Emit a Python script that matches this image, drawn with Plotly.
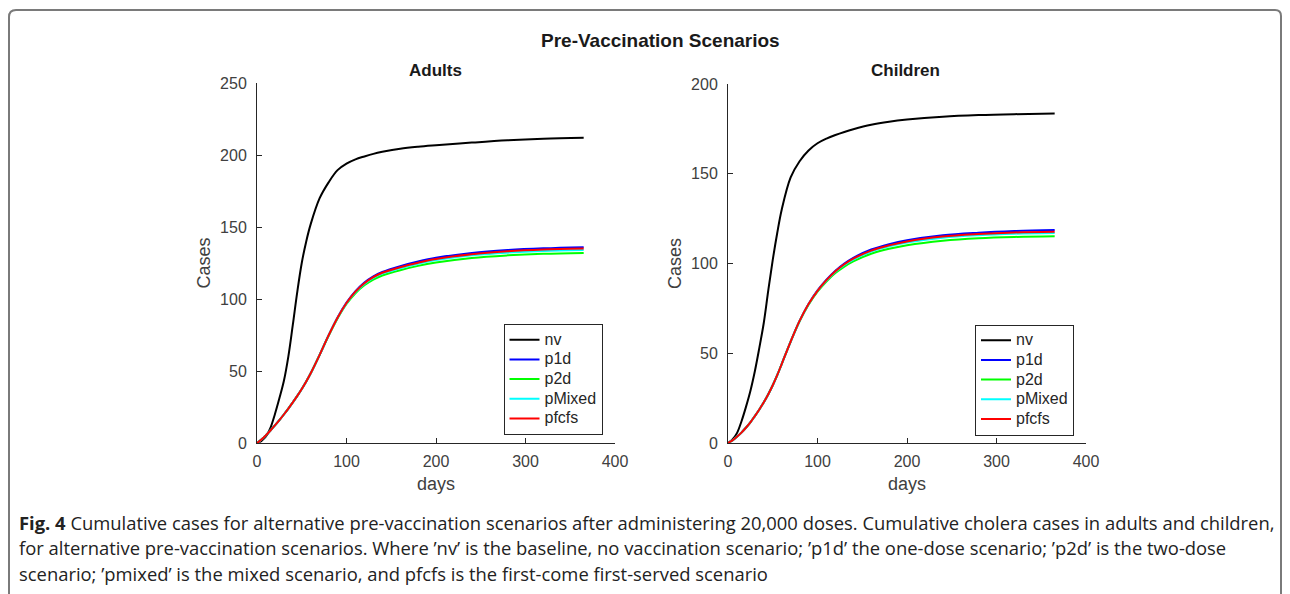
import plotly.graph_objects as go

days = [0, 5, 10, 15, 20, 25, 30, 35, 40, 45, 50, 55, 60, 70, 80, 90, 100, 110, 120, 130, 140, 160, 180, 200, 240, 280, 320, 365]

adults_nv = [0, 1.5, 4.5, 10.5, 20, 31, 43, 60, 82, 105, 125, 140, 152, 170, 181, 189.5, 194, 197, 199, 200.8, 202.2, 204.4, 205.8, 206.8, 208.6, 210.2, 211.3, 212]
adults_p1d = [0, 2.4, 5.4, 8.7, 12.2, 15.9, 19.8, 23.9, 28.2, 32.7, 37.5, 42.7, 48.4, 61.2, 74.8, 87.2, 97.5, 105.5, 111.5, 115.8, 118.8, 122.8, 126, 128.6, 132, 134, 135.2, 136]
adults_p2d = [0, 2.4, 5.4, 8.7, 12.2, 15.9, 19.8, 23.9, 28.2, 32.7, 37.5, 42.7, 48.4, 61.2, 74.5, 86.5, 96.5, 104, 109.5, 113.5, 116.3, 120, 123, 125.3, 128.5, 130.3, 131.4, 132]
adults_pmixed = [0, 2.4, 5.4, 8.7, 12.2, 15.9, 19.8, 23.9, 28.2, 32.7, 37.5, 42.7, 48.4, 61.2, 74.7, 86.9, 97, 104.8, 110.5, 114.7, 117.6, 121.4, 124.5, 127, 130.3, 132.2, 133.4, 134]
adults_pfcfs = [0, 2.4, 5.4, 8.7, 12.2, 15.9, 19.8, 23.9, 28.2, 32.7, 37.5, 42.7, 48.4, 61.2, 74.7, 87, 97.2, 105.1, 111, 115.2, 118.2, 122.1, 125.2, 127.8, 131.1, 133.1, 134.3, 135]

children_nv = [0, 2, 5.5, 12, 20, 29, 40, 53, 67, 85, 102, 117, 130, 148, 157, 163, 167, 169.6, 171.6, 173.3, 174.8, 177.3, 179, 180.2, 181.8, 182.7, 183.2, 183.5]
children_p1d = [0, 1.5, 3.5, 5.8, 8.5, 11.5, 15, 18.7, 22.7, 27.2, 32.2, 37.8, 44, 56.5, 68, 77.5, 85, 91, 96, 100, 103.2, 107.8, 110.8, 113, 115.8, 117.2, 118.1, 118.7]
children_p2d = [0, 1.5, 3.5, 5.8, 8.5, 11.5, 15, 18.7, 22.7, 27.2, 32.2, 37.8, 44, 56.5, 67.8, 77, 84.3, 90, 94.7, 98.3, 101.2, 105.4, 108.2, 110.2, 112.7, 114.1, 114.8, 115.2]
children_pmixed = [0, 1.5, 3.5, 5.8, 8.5, 11.5, 15, 18.7, 22.7, 27.2, 32.2, 37.8, 44, 56.5, 67.9, 77.3, 84.7, 90.5, 95.4, 99.2, 102.2, 106.7, 109.6, 111.7, 114.4, 115.8, 116.6, 117]
children_pfcfs = [0, 1.5, 3.5, 5.8, 8.5, 11.5, 15, 18.7, 22.7, 27.2, 32.2, 37.8, 44, 56.5, 68, 77.4, 84.8, 90.7, 95.7, 99.6, 102.7, 107.2, 110.1, 112.3, 115, 116.4, 117.3, 117.7]

series_names = ["nv", "p1d", "p2d", "pMixed", "pfcfs"]
series_colors = ["#000000", "#0000ff", "#00ff00", "#00ffff", "#ff0000"]
adults = [adults_nv, adults_p1d, adults_p2d, adults_pmixed, adults_pfcfs]
children = [children_nv, children_p1d, children_p2d, children_pmixed, children_pfcfs]

x_ticks = [0, 100, 200, 300, 400]
adults_y_ticks = [0, 50, 100, 150, 200, 250]
children_y_ticks = [0, 50, 100, 150, 200]

# page body has an 8px default margin; the figure sits inside it
OFF = 8
W, H = 1290 - OFF, 594 - OFF
AXC = "#262626"
TXT = "#404040"
FONT = "Liberation Sans, Arial, Helvetica, sans-serif"


def legend_label(name):
    return f'<span style="font-size:16px">{name}</span>'


fig = go.Figure()
for name, col, ys in zip(series_names, series_colors, adults):
    fig.add_trace(go.Scatter(x=days, y=ys, name=legend_label(name), mode="lines",
                             line=dict(color=col, width=2, shape="spline", smoothing=1.0),
                             xaxis="x", yaxis="y", legend="legend"))
for name, col, ys in zip(series_names, series_colors, children):
    fig.add_trace(go.Scatter(x=days, y=ys, name=legend_label(name), mode="lines",
                             line=dict(color=col, width=2, shape="spline", smoothing=1.0),
                             xaxis="x2", yaxis="y2", legend="legend2"))


def px_x(p):
    return (p - OFF) / W


def px_y(p):
    return 1 - (p - OFF) / H


axis_common = dict(showline=True, linecolor=AXC, linewidth=1, ticks="inside", ticklen=5, tickcolor=AXC,
                   showgrid=False, zeroline=False, mirror=False, automargin=False,
                   tickfont=dict(family=FONT, size=16, color=TXT))

legend_common = dict(xanchor="center", yanchor="middle", bgcolor="white",
                     bordercolor=AXC, borderwidth=1, font=dict(family=FONT, size=12.8, color="#262626"),
                     tracegroupgap=0, itemwidth=30)

fig.update_layout(
    width=W, height=H,
    margin=dict(l=0, r=0, t=0, b=0, pad=0, autoexpand=False),
    paper_bgcolor="white", plot_bgcolor="white",
    font=dict(family=FONT, color=TXT),
    xaxis=dict(domain=[px_x(257), px_x(615)], range=[0, 400], tickvals=x_ticks, anchor="y", ticklabelstandoff=4,
               title=dict(text="days", font=dict(size=18, color=TXT), standoff=8), **axis_common),
    yaxis=dict(domain=[px_y(443), px_y(83)], range=[0, 250], tickvals=adults_y_ticks, anchor="x", ticklabelstandoff=6,
               title=dict(text="Cases", font=dict(size=18, color=TXT), standoff=4), **axis_common),
    xaxis2=dict(domain=[px_x(728), px_x(1086)], range=[0, 400], tickvals=x_ticks, anchor="y2", ticklabelstandoff=4,
                title=dict(text="days", font=dict(size=18, color=TXT), standoff=8), **axis_common),
    yaxis2=dict(domain=[px_y(443), px_y(84)], range=[0, 200], tickvals=children_y_ticks, anchor="x2", ticklabelstandoff=6,
                title=dict(text="Cases", font=dict(size=18, color=TXT), standoff=4), **axis_common),
    legend=dict(x=px_x(553), y=px_y(379.5), **legend_common),
    legend2=dict(x=px_x(1024.5), y=px_y(380), **legend_common),
    showlegend=True,
)

annotations = [
    dict(text="<b>Pre-Vaccination Scenarios</b>", x=px_x(660), y=px_y(40), xref="paper", yref="paper",
         showarrow=False, font=dict(family=FONT, size=19, color="#1a1a1a"), xanchor="center", yanchor="middle"),
    dict(text="<b>Adults</b>", x=px_x(435), y=px_y(70), xref="paper", yref="paper",
         showarrow=False, font=dict(family=FONT, size=17, color="#1a1a1a"), xanchor="center", yanchor="middle"),
    dict(text="<b>Children</b>", x=px_x(905), y=px_y(70), xref="paper", yref="paper",
         showarrow=False, font=dict(family=FONT, size=17, color="#1a1a1a"), xanchor="center", yanchor="middle"),
]
cap_font = "Open Sans, Noto Sans, sans-serif"
caption_lines = [
    "<b>Fig. 4</b> Cumulative cases for alternative pre-vaccination scenarios after administering 20,000 doses. Cumulative cholera cases in adults and children,",
    "for alternative pre-vaccination scenarios. Where \u2019nv\u2019 is the baseline, no vaccination scenario; \u2019p1d\u2019 the one-dose scenario; \u2019p2d\u2019 is the two-dose",
    "scenario; \u2019pmixed\u2019 is the mixed scenario, and pfcfs is the first-come first-served scenario",
]
for i, line in enumerate(caption_lines):
    annotations.append(dict(text=line, x=px_x(17), y=px_y(522 + 25.5 * i), xref="paper", yref="paper",
                            showarrow=False, xanchor="left", yanchor="middle",
                            font=dict(family=cap_font, size=18.4, color="#222222")))
fig.update_layout(annotations=annotations)

fig.update_layout(shapes=[
    dict(type="path", xref="paper", yref="paper",
         path=f"M {px_x(9)},{px_y(610)} L {px_x(9)},{px_y(17)} Q {px_x(9)},{px_y(10)} {px_x(16)},{px_y(10)} "
              f"L {px_x(1275)},{px_y(10)} Q {px_x(1281)},{px_y(10)} {px_x(1281)},{px_y(16)} L {px_x(1281)},{px_y(610)}",
         line=dict(color="#7a7a7a", width=2)),
])

fig.write_html("out.html")
